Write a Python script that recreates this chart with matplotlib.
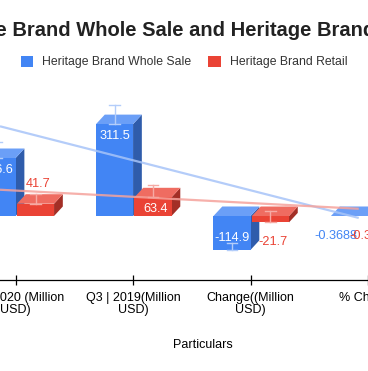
import numpy as np
import matplotlib
matplotlib.use("Agg")
import matplotlib.pyplot as plt
from matplotlib.patches import Polygon, Rectangle, Patch

plt.rcParams["font.family"] = ["Liberation Sans", "DejaVu Sans"]

categories = ["Q3 | 2020 (Million\nUSD)", "Q3 | 2019(Million\nUSD)", "Change((Million\nUSD)", "% Change"]
wholesale = [196.6, 311.5, -114.9, -0.3688]
retail = [41.7, 63.4, -21.7, -0.3423]
wholesale_hi = [251, 376, -91, None]
retail_hi = [75, 105, 17, None]
wholesale_labels = ["196.6", "311.5", "-114.9", "-0.3688"]
retail_labels = ["41.7", "63.4", "-21.7", "-0.3423"]

BLUE = ("#4285f4", "#6b9ff7", "#2f5cab")   # front, top, side
RED = ("#ea4335", "#ef6c61", "#a32f26")

W, H = 368, 371
fig = plt.figure(figsize=(W / 100, H / 100), dpi=100)

px_per_cat = 120.5
px_per_unit = 0.295
zero_px = 216
ax_top_px, ax_bot_px = 80, 280
ax = fig.add_axes([0, (H - ax_bot_px) / H, 1, (ax_bot_px - ax_top_px) / H])
ax.set_xlim(-16 / px_per_cat, (W - 16) / px_per_cat)
ax.set_ylim(-(ax_bot_px - zero_px) / px_per_unit, (zero_px - ax_top_px) / px_per_unit)

bw = 38 / px_per_cat
dx = 9 / px_per_cat
dy = 9.5 / px_per_unit


def bar3d(x0, v, cols):
    front, top, side = cols
    t = max(v, 0)
    ax.add_patch(Polygon([(x0 + bw, 0), (x0 + bw, v), (x0 + bw + dx, v + dy), (x0 + bw + dx, dy)],
                         closed=True, fc=side, ec="none", zorder=2))
    ax.add_patch(Polygon([(x0, t), (x0 + bw, t), (x0 + bw + dx, t + dy), (x0 + dx, t + dy)],
                         closed=True, fc=top, ec="none", zorder=2))
    ax.add_patch(Rectangle((x0, min(0, v)), bw, abs(v), fc=front, ec="none", zorder=2))


def interval(xc, v, hi, col):
    if hi is None:
        return
    cap = 5.5 / px_per_cat
    ax.plot([xc, xc], [v, hi], color=col, lw=1, zorder=3)
    ax.plot([xc - cap, xc + cap], [hi, hi], color=col, lw=1, zorder=3)
    ax.plot([xc - cap, xc + cap], [v, v], color=col, lw=1, zorder=3)


def label(xc, v, text, col):
    if abs(v) > 55:
        y = v - np.sign(v) * 12 / px_per_unit
        c = "white"
    else:
        y = v + (20 / px_per_unit if v > 0 else -20 / px_per_unit)
        c = col
    ax.text(xc, y, text, color=c, fontsize=9.2, ha="center", va="center", zorder=5)


last = len(categories) - 1
for i in range(len(categories)):
    bx = i - bw
    rx = i + 0.012
    bar3d(bx, wholesale[i], BLUE)
    bar3d(rx, retail[i], RED)
    interval(bx + bw / 2, wholesale[i], wholesale_hi[i], "#b3cdfa")
    interval(rx + bw / 2, retail[i], retail_hi[i], "#f6aaa4")
    bshift = -14 / px_per_cat if i == last else 0
    rshift = -17 / px_per_cat if i == last else 0.02
    label(bx + bw / 2 + bshift, wholesale[i], wholesale_labels[i], BLUE[0])
    label(rx + bw / 2 + rshift, retail[i], retail_labels[i], RED[0])

# linear trendlines, drawn on the back plane of the 3D bars
xi = np.arange(len(categories))
xs = np.array(ax.get_xlim()) - dx
for vals, col in [(wholesale, "#a7c4f8"), (retail, "#f5a39c")]:
    k, b = np.polyfit(xi, vals, 1)
    ax.plot(xs + dx, k * xs + b + dy, color=col, lw=1.6, alpha=0.85, zorder=4,
            solid_capstyle="butt")

for s in ["top", "left", "right"]:
    ax.spines[s].set_visible(False)
ax.spines["bottom"].set_linewidth(0.9)
ax.set_xticks(xi)
ax.set_xticklabels(categories, fontsize=9, linespacing=1.0)
ax.tick_params(axis="x", direction="inout", length=7, width=0.9, pad=5.5)
ax.set_yticks([])

fig.text(203 / W, 1 - 345 / H, "Particulars", fontsize=9, ha="center", va="center")
fig.text(181 / W, 1 - 30 / H, "Heritage Brand Whole Sale and Heritage Brand Retail",
         fontsize=14.5, fontweight="bold", color="#222222", ha="center", va="center")

handles = [Patch(fc=BLUE[0], ec="none"), Patch(fc=RED[0], ec="none")]
fig.legend(handles, ["Heritage Brand Whole Sale", "Heritage Brand Retail"], ncol=2,
           loc="center", bbox_to_anchor=(184 / W, 1 - 62 / H), frameon=False,
           fontsize=8.8, handlelength=1.0, handleheight=1.0, handletextpad=0.75,
           columnspacing=1.4, labelcolor="#333333")

fig.savefig("out.png", dpi=100)
